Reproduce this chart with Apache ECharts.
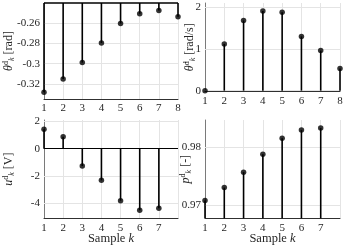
<!DOCTYPE html>
<html><head><meta charset="utf-8">
<script src="https://cdn.jsdelivr.net/npm/echarts@6/dist/echarts.min.js"></script>
<style>html,body{margin:0;padding:0;background:#fff}#c{width:347px;height:247px}</style>
</head><body><div id="c"></div>
<script>
// ---- data ----
const samples = [1, 2, 3, 4, 5, 6, 7, 8];
const theta = [-0.3283, -0.3153, -0.2990, -0.2796, -0.2603, -0.2506, -0.2473, -0.2536];
const thetaDot = [0, 1.12, 1.68, 1.91, 1.88, 1.30, 0.96, 0.53];
const uSamples = [1, 2, 3, 4, 5, 6, 7];
const u = [1.42, 0.88, -1.27, -2.32, -3.81, -4.51, -4.37];
const p = [0.97086, 0.97305, 0.97569, 0.97874, 0.98150, 0.98288, 0.98322];
const xLabelsTop = [1, 2, 3, 4, 5, 6, 7, 8];
const xLabelsBottom = [1, 2, 3, 4, 5, 6, 7];
const thetaTicks = [-0.32, -0.30, -0.28, -0.26];
const thetaDotTicks = [0, 1, 2];
const uTicks = [-4, -2, 0, 2];
const pGrid = [0.97, 0.975, 0.98];
const pTicks = [0.97, 0.98];

const FONT = 'Liberation Serif';
const TXT = '#262626';
const GRIDC = '#e4e4e4';

function near(v, list, tol) { return list.some(t => Math.abs(v - t) < tol); }
function fmtNum(v) { return String(Math.round(v * 1000) / 1000); }

const grids = [
  { left: 44, top: 3, width: 134, height: 96 },
  { left: 205, top: 3, width: 135, height: 88.5 },
  { left: 44, top: 120, width: 134, height: 98.3 },
  { left: 205, top: 120, width: 135, height: 98.3 }
];

function xAxis(i, labels, withName) {
  return {
    type: 'value', gridIndex: i, min: 1, max: 8, interval: 1,
    axisLine: { show: true, onZero: false, lineStyle: { color: '#303030', width: 1 } },
    axisTick: { show: false },
    splitLine: { show: true, lineStyle: { color: GRIDC, width: 1 } },
    axisLabel: {
      margin: 4, fontFamily: FONT, fontSize: 11, color: TXT,
      showMinLabel: true, showMaxLabel: true,
      formatter: v => near(v, labels, 1e-6) ? String(Math.round(v)) : ''
    },
    name: withName ? '{n|Sample }{k|k}' : '',
    nameLocation: 'middle', nameGap: 14, nameMoveOverlap: false,
    nameTextStyle: {
      rich: {
        n: { fontFamily: FONT, fontSize: 12.5, color: TXT },
        k: { fontFamily: FONT, fontSize: 12.5, fontStyle: 'italic', color: TXT }
      }
    }
  };
}

function yName(sym, unit) {
  return '{s|' + sym + '}{sup|d}{sub|k}{n| [' + unit + ']}';
}
const yRich = {
  s: { fontFamily: FONT, fontSize: 12, fontStyle: 'italic', color: TXT, lineHeight: 14, verticalAlign: 'middle' },
  sup: { fontFamily: FONT, fontSize: 8, color: TXT, lineHeight: 14, verticalAlign: 'top' },
  sub: { fontFamily: FONT, fontSize: 8, fontStyle: 'italic', color: TXT, lineHeight: 14, verticalAlign: 'bottom' },
  n: { fontFamily: FONT, fontSize: 12, color: TXT, lineHeight: 14, verticalAlign: 'middle' }
};

function yAxis(i, min, max, interval, ticks, name, gap) {
  return {
    type: 'value', gridIndex: i, min: min, max: max, interval: interval,
    axisLine: { show: true, lineStyle: { color: '#7a7a7a', width: 1 } },
    axisTick: { show: false },
    splitLine: { show: false },
    axisLabel: {
      margin: 4, fontFamily: FONT, fontSize: 11, color: TXT,
      showMinLabel: true, showMaxLabel: true,
      formatter: v => near(v, ticks, interval / 20) ? fmtNum(v) : ''
    },
    name: name, nameLocation: 'middle', nameRotate: 90, nameGap: gap, nameMoveOverlap: false,
    nameTextStyle: { rich: yRich }
  };
}

function stems(i, xs, ys) {
  const d = xs.map((x, j) => [x, ys[j]]);
  return [
    { type: 'bar', xAxisIndex: i, yAxisIndex: i, data: d, barWidth: 1.6, clip: true,
      itemStyle: { color: '#000' }, z: 3, silent: true },
    { type: 'scatter', xAxisIndex: i, yAxisIndex: i, data: d, symbolSize: 5.5,
      itemStyle: { color: '#000' }, z: 4, silent: true, clip: false }
  ];
}

function gridLines(i, vals, extra) {
  const data = vals.map(v => ({ yAxis: v, lineStyle: { color: GRIDC, width: 1, type: 'solid' } }));
  (extra || []).forEach(e => data.push(e));
  return {
    type: 'line', xAxisIndex: i, yAxisIndex: i, data: [[1, vals[0]]], showSymbol: false,
    symbol: 'none', lineStyle: { opacity: 0 }, z: 1, silent: true,
    markLine: { silent: true, z: 1, symbol: 'none', label: { show: false }, animation: false, data: data }
  };
}

const option = {
  animation: false,
  backgroundColor: '#fff',
  grid: grids,
  xAxis: [
    xAxis(0, xLabelsTop, false),
    xAxis(1, xLabelsTop, false),
    xAxis(2, xLabelsBottom, true),
    xAxis(3, xLabelsBottom, true)
  ],
  yAxis: [
    yAxis(0, -0.335, -0.24, 0.005, thetaTicks, yName('θ', 'rad'), 28),
    yAxis(1, -0.02, 2.1, 0.02, thetaDotTicks, yName('θ̇', 'rad/s'), 8),
    yAxis(2, -5.1, 2.1, 0.1, uTicks, yName('u', 'V'), 28),
    yAxis(3, 0.9678, 0.9846, 0.0001, pTicks, yName('p', '-'), 12)
  ],
  series: [
    gridLines(0, thetaTicks, [{ yAxis: -0.24, lineStyle: { color: '#000', width: 1.5, type: 'solid' } }]),
    gridLines(1, thetaDotTicks),
    gridLines(2, uTicks, [{ yAxis: 0, lineStyle: { color: '#000', width: 1, type: 'solid' } }]),
    gridLines(3, pGrid),
    ...stems(0, samples, theta),
    ...stems(1, samples, thetaDot),
    ...stems(2, uSamples, u),
    ...stems(3, uSamples, p)
  ]
};

const chart = echarts.init(document.getElementById('c'), null, { renderer: 'canvas' });
chart.setOption(option);
</script>
</body></html>
